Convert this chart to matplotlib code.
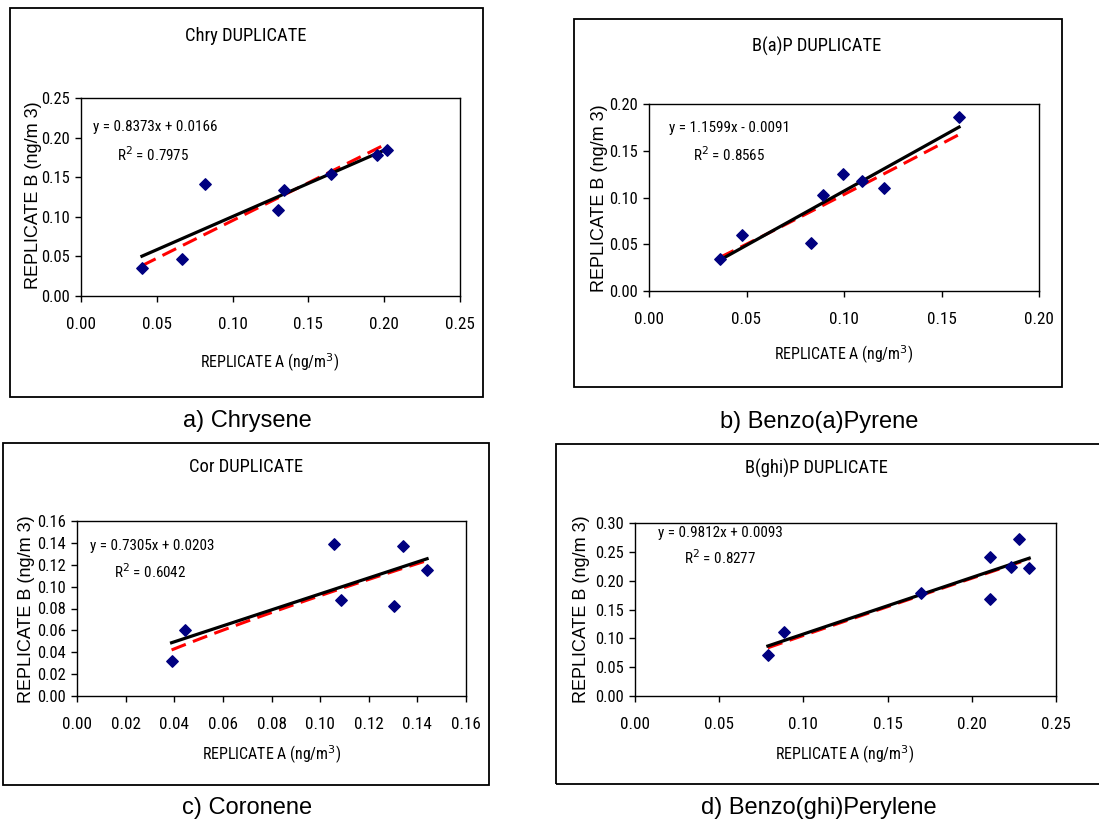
import numpy as np
import matplotlib.pyplot as plt
from matplotlib import font_manager
from matplotlib.patches import Rectangle

# replicate A / replicate B concentrations (ng/m3)
chry_a = [0.0402, 0.0668, 0.0818, 0.1300, 0.1337, 0.1650, 0.1950, 0.2018]
chry_b = [0.0350, 0.0464, 0.1410, 0.1090, 0.1340, 0.1540, 0.1780, 0.1840]

bap_a = [0.0364, 0.0479, 0.0829, 0.0891, 0.0995, 0.1094, 0.1203, 0.1590]
bap_b = [0.0339, 0.0604, 0.0511, 0.1025, 0.1254, 0.1179, 0.1104, 0.1860]

cor_a = [0.0389, 0.0443, 0.1057, 0.1084, 0.1305, 0.1339, 0.1440]
cor_b = [0.0319, 0.0604, 0.1393, 0.0880, 0.0820, 0.1370, 0.1154]

bghip_a = [0.0789, 0.0886, 0.1697, 0.2107, 0.2107, 0.2232, 0.2282, 0.2341]
bghip_b = [0.0714, 0.1117, 0.1790, 0.2418, 0.1675, 0.2240, 0.2729, 0.2216]

# linear trendline coefficients (slope, intercept) and R2 as printed
fits = [(0.8373, 0.0166, 0.7975), (1.1599, -0.0091, 0.8565),
        (0.7305, 0.0203, 0.6042), (0.9812, 0.0093, 0.8277)]

titles = ["Chry DUPLICATE", "B(a)P DUPLICATE", "Cor DUPLICATE", "B(ghi)P DUPLICATE"]
captions = ["a) Chrysene", "b) Benzo(a)Pyrene", "c) Coronene", "d) Benzo(ghi)Perylene"]
xmax = [0.25, 0.20, 0.16, 0.25]
ymax = [0.25, 0.20, 0.16, 0.30]
xstep = [0.05, 0.05, 0.02, 0.05]
ystep = [0.05, 0.05, 0.02, 0.05]

# the chart text is a condensed face; use one if present, else shrink
installed = {f.name for f in font_manager.fontManager.ttflist}
narrow = [n for n in ["Liberation Sans Narrow", "Roboto Condensed", "Open Sans Condensed",
                      "DejaVu Sans Condensed"] if n in installed]
if narrow and narrow[0] != "DejaVu Sans Condensed":
    NARROW = [narrow[0], "Liberation Sans"]
    shrink = 0.95
else:
    NARROW = ["Liberation Sans", "DejaVu Sans"]
    shrink = 0.78
SANS = ["Liberation Sans", "DejaVu Sans"]

W, H = 1099, 825


def fx(px):
    return px / W


def fy(py):
    return 1 - py / H


# layout in pixels: axes box (l, t, r, b), frame box, text positions
axes_px = [(81, 98, 460, 296), (649, 104, 1039, 291), (77, 521, 466, 696), (635, 523, 1056, 696)]
frame_px = [(10, 8, 483, 397), (574, 19, 1062, 387), (3, 443, 489, 785), (556, 444, 1130, 784)]
title_px = [(246, 36), (817, 46), (246, 467), (816, 468)]
caption_px = [(247, 421), (819, 422), (247, 808), (819, 808)]
xlabel_px = [(270, 363), (844, 355), (272, 755), (845, 755)]
ylabel_px = [(34, 195), (600, 198), (27, 609), (581, 609)]
eq_pos = [(0.032, 0.853, 0.095, 0.712), (0.051, 0.872, 0.113, 0.727),
          (0.033, 0.857, 0.095, 0.709), (0.055, 0.942, 0.116, 0.798)]

data = [(chry_a, chry_b), (bap_a, bap_b), (cor_a, cor_b), (bghip_a, bghip_b)]

fig = plt.figure(figsize=(W / 100, H / 100), dpi=100)

for i, (xa, xb) in enumerate(data):
    xa = np.array(xa)
    xb = np.array(xb)
    l, t, r, b = frame_px[i]
    fig.patches.append(Rectangle((fx(l), fy(b)), fx(r - l), (b - t) / H,
                                 transform=fig.transFigure, fill=False,
                                 edgecolor="black", linewidth=1.3))
    l, t, r, b = axes_px[i]
    ax = fig.add_axes([fx(l), fy(b), fx(r - l), (b - t) / H])

    xs = np.linspace(xa.min(), xa.max(), 100)
    # power trendline (red dashed)
    pb, pa = np.polyfit(np.log(xa), np.log(xb), 1)
    ax.plot(xs, np.exp(pa) * xs ** pb, color="#ff0000", lw=2.2,
            dashes=(5, 2.5), zorder=2)
    slope, icpt, r2 = fits[i]
    ax.plot(xs, slope * xs + icpt, color="black", lw=2.3, zorder=3)
    ax.scatter(xa, xb, marker="D", s=34, color="#000080", zorder=4)

    ax.set_xlim(0, xmax[i])
    ax.set_ylim(0, ymax[i])
    ax.set_xticks(np.arange(0, xmax[i] + 1e-9, xstep[i]))
    ax.set_yticks(np.arange(0, ymax[i] + 1e-9, ystep[i]))
    ax.set_xticklabels([f"{v:.2f}" for v in ax.get_xticks()], family=NARROW, fontsize=13 * shrink)
    ax.set_yticklabels([f"{v:.2f}" for v in ax.get_yticks()], family=NARROW, fontsize=12.5 * shrink)
    ax.tick_params(direction="out", length=4, width=1, pad=4)
    ax.tick_params(axis="x", pad=11)
    for s in ax.spines.values():
        s.set_linewidth(1)

    sign = "+" if icpt >= 0 else "-"
    ex, ey, rx, ry = eq_pos[i]
    ax.text(ex, ey, f"y = {slope:.4f}x {sign} {abs(icpt):.4f}", transform=ax.transAxes,
            family=NARROW, fontsize=11.5 * shrink, va="center", ha="left")
    ax.text(rx, ry, f"R$^2$ = {r2:.4f}", transform=ax.transAxes,
            family=NARROW, fontsize=11.5 * shrink, va="center", ha="left")

    tx, ty = title_px[i]
    fig.text(fx(tx), fy(ty), titles[i], family=NARROW, fontsize=14 * shrink, ha="center", va="center")
    cx, cy = caption_px[i]
    fig.text(fx(cx), fy(cy), captions[i], family=SANS, fontsize=17, ha="center", va="center")
    lx, ly = xlabel_px[i]
    fig.text(fx(lx), fy(ly), "REPLICATE A (ng/m$^3$)", family=NARROW, fontsize=12 * shrink,
             ha="center", va="center")
    yx, yy = ylabel_px[i]
    fig.text(fx(yx), fy(yy), "REPLICATE B (ng/m 3)", family=SANS, fontsize=13,
             rotation=90, ha="center", va="center")

fig.savefig("out.png", dpi=100)
